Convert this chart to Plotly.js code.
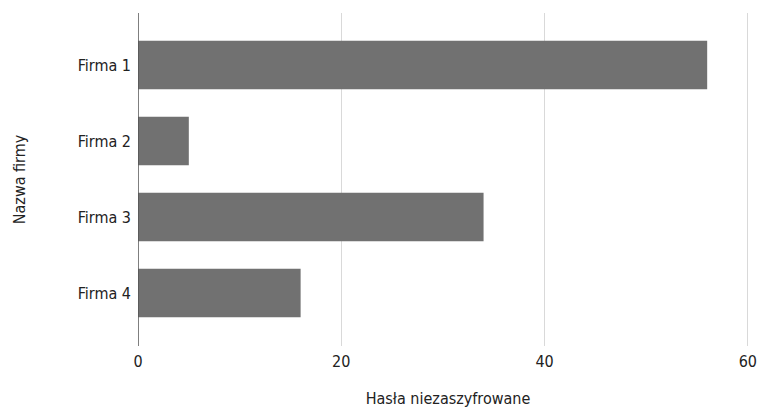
<!DOCTYPE html>
<html><head><meta charset="utf-8">
<script src="https://cdn.plot.ly/plotly-3.0.1.min.js"></script>
<style>body{margin:0;background:#fff}#c{width:758px;height:408px}</style>
</head><body><div id="c"></div>
<script>
const categories = ["Firma 1", "Firma 2", "Firma 3", "Firma 4"];
const values = [56, 5, 34, 16];
const xTicks = [0, 20, 40, 60];

const font = "'DejaVu Sans Condensed', 'Liberation Sans Narrow', sans-serif";
Plotly.newPlot('c', [{
  type: 'bar', orientation: 'h', x: values, y: categories,
  marker: {color: '#717171'}, width: 0.64, hoverinfo: 'none'
}], {
  width: 758, height: 408,
  margin: {l: 138, r: 0, t: 13, b: 62},
  paper_bgcolor: '#fff', plot_bgcolor: '#fff',
  font: {family: font, size: 16, color: '#222'},
  xaxis: {range: [0, 61.0], tickvals: xTicks, ticktext: xTicks.map(String),
    showgrid: true, gridcolor: '#d9d9d9', gridwidth: 1, zeroline: false,
    showline: false, ticks: '', ticklabelstandoff: 4,
    title: {text: 'Hasła niezaszyfrowane', standoff: 24, font: {size: 16}}},
  yaxis: {type: 'category', categoryarray: categories, range: [3.697, -0.684],
    showgrid: false, zeroline: false, showline: false, ticks: '', ticklabelstandoff: 6,
    title: {text: 'Nazwa firmy', standoff: 48, font: {size: 16}}},
  shapes: [{type: 'line', xref: 'x', yref: 'paper', x0: 0, x1: 0, y0: 0, y1: 1,
    line: {color: '#555', width: 1.5}}],
  showlegend: false
}, {staticPlot: true});
</script></body></html>
